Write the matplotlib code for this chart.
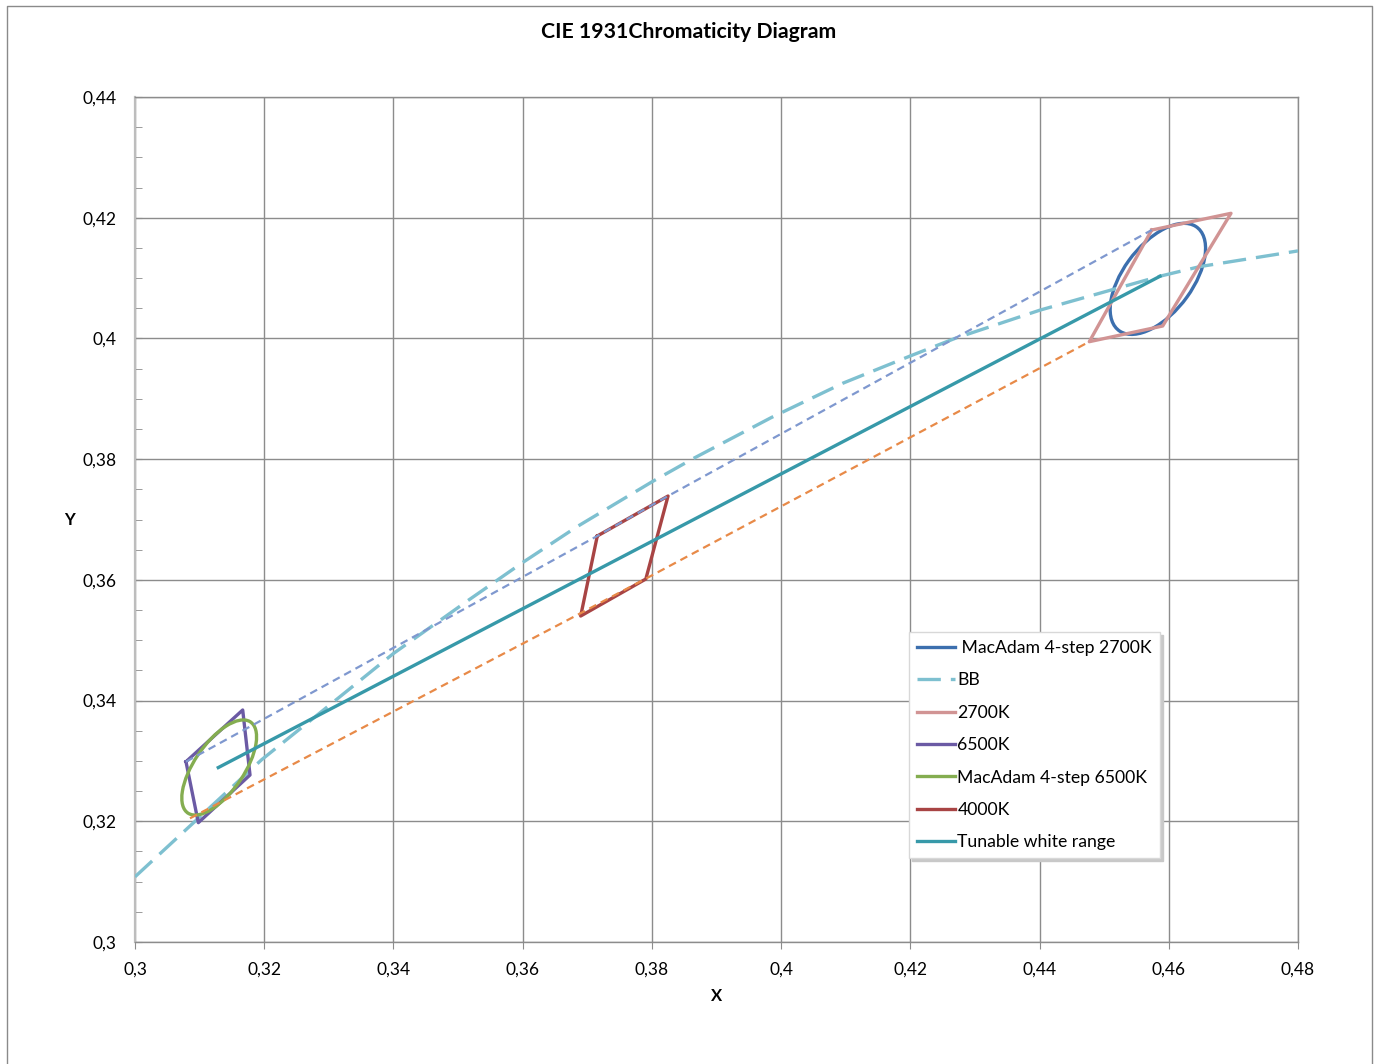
import matplotlib
matplotlib.use('Agg')
import matplotlib.pyplot as plt
from matplotlib.patches import Ellipse
from matplotlib.lines import Line2D
from matplotlib.ticker import MultipleLocator, FuncFormatter

plt.rcParams['font.family'] = ['Lato', 'DejaVu Sans']

# curva do corpo negro (BB)
bb_x = [0.3000, 0.3196, 0.3289, 0.3400, 0.3513, 0.3599, 0.3684, 0.3801, 0.3864,
        0.3985, 0.4096, 0.4200, 0.4269, 0.4401, 0.4586, 0.4648, 0.4800]
bb_y = [0.3108, 0.3302, 0.3382, 0.3478, 0.3564, 0.3628, 0.3688, 0.3763, 0.3801,
        0.3869, 0.3926, 0.3971, 0.4000, 0.4047, 0.4103, 0.4119, 0.4145]

# quadrilateros (fechados)
q2700_x = [0.45736, 0.46963, 0.45906, 0.44770, 0.45736]
q2700_y = [0.41796, 0.42073, 0.40206, 0.39946, 0.41796]
q6500_x = [0.30789, 0.31667, 0.31780, 0.30980, 0.30789]
q6500_y = [0.32987, 0.33844, 0.32767, 0.31977, 0.32987]
q4000_x = [0.37155, 0.38250, 0.37906, 0.36898, 0.37155]
q4000_y = [0.36727, 0.37389, 0.36014, 0.35401, 0.36727]

# faixa de branco ajustavel
tw_x = [0.31289, 0.45864]
tw_y = [0.32890, 0.41030]

# linhas pontilhadas (limites)
sup_x = [0.30789, 0.37155, 0.38250, 0.45736]
sup_y = [0.32987, 0.36727, 0.37389, 0.41796]
inf_x = [0.30851, 0.36898, 0.37906, 0.44770]
inf_y = [0.32049, 0.35448, 0.36020, 0.39946]

# elipses MacAdam 4-step: centro, semi-eixos, angulo
ell2700 = dict(cx=0.45831, cy=0.40987, a=0.01048, b=0.00542, ang=56.0)
ell6500 = dict(cx=0.31303, cy=0.32891, a=0.00897, b=0.00389, ang=58.0)

labels = [' MacAdam 4-step 2700K', 'BB', '2700K', '6500K',
          'MacAdam 4-step 6500K', '4000K', 'Tunable white range']

cores = {
    'mac2700': '#3c6fae',
    'bb': '#7ec0d0',
    '2700': '#d19494',
    '6500': '#6b5aa4',
    'mac6500': '#84ad50',
    '4000': '#a84444',
    'tw': '#3799a9',
    'sup': '#7f98cf',
    'inf': '#e88a48',
}

fig = plt.figure(figsize=(13.79, 10.64), dpi=100)
ax = fig.add_axes([135/1379, 1 - 942/1064, 1163/1379, 845/1064])

lw = 2.4
ax.add_patch(Ellipse((ell2700['cx'], ell2700['cy']), 2*ell2700['a'], 2*ell2700['b'],
                     angle=ell2700['ang'], fill=False, ec=cores['mac2700'], lw=lw, zorder=3))
ax.plot(bb_x, bb_y, color=cores['bb'], lw=lw, dashes=(7, 3), zorder=3)
ax.plot(q2700_x, q2700_y, color=cores['2700'], lw=lw, zorder=3)
ax.plot(q6500_x, q6500_y, color=cores['6500'], lw=lw, zorder=3)
ax.add_patch(Ellipse((ell6500['cx'], ell6500['cy']), 2*ell6500['a'], 2*ell6500['b'],
                     angle=ell6500['ang'], fill=False, ec=cores['mac6500'], lw=lw, zorder=3))
ax.plot(q4000_x, q4000_y, color=cores['4000'], lw=lw, zorder=3)
ax.plot(tw_x, tw_y, color=cores['tw'], lw=lw, zorder=3)
ax.plot(sup_x, sup_y, color=cores['sup'], lw=1.6, dashes=(3.5, 2.3), zorder=4)
ax.plot(inf_x, inf_y, color=cores['inf'], lw=1.6, dashes=(3.5, 2.3), zorder=4)

ax.set_xlim(0.30, 0.48)
ax.set_ylim(0.30, 0.44)

fmt = FuncFormatter(lambda v, _: ('%g' % round(v, 4)).replace('.', ','))
ax.xaxis.set_major_locator(MultipleLocator(0.02))
ax.yaxis.set_major_locator(MultipleLocator(0.02))
ax.yaxis.set_minor_locator(MultipleLocator(0.005))
ax.xaxis.set_major_formatter(fmt)
ax.yaxis.set_major_formatter(fmt)
ax.tick_params(axis='x', which='major', direction='out', length=5, color='#8c8c8c',
               labelsize=12.5, pad=9)
ax.tick_params(axis='y', which='both', direction='in', length=5, color='#8c8c8c',
               labelsize=12.5, pad=13)

ax.grid(True, which='major', color='#8c8c8c', lw=1.0)
ax.set_axisbelow(True)
for s in ['top', 'right', 'bottom']:
    ax.spines[s].set_color('#8c8c8c')
    ax.spines[s].set_linewidth(1.0)
ax.spines['left'].set_color('#bdbdbd')
ax.spines['left'].set_linewidth(1.6)

ax.set_xlabel('X', fontweight='bold', fontsize=12, ha='center', va='center')
ax.set_ylabel('Y', fontweight='bold', fontsize=12, rotation=0, ha='center', va='center')
ax.xaxis.set_label_coords(0.4996, -0.0639)
ax.yaxis.set_label_coords(-0.0559, 0.4994)

fig.text(689/1379, 1 - 32/1064, 'CIE 1931Chromaticity Diagram', fontsize=15.3,
         fontweight='bold', ha='center', va='center')

handles = [Line2D([], [], color=cores['mac2700'], lw=lw),
           Line2D([], [], color=cores['bb'], lw=lw, dashes=(7, 3)),
           Line2D([], [], color=cores['2700'], lw=lw),
           Line2D([], [], color=cores['6500'], lw=lw),
           Line2D([], [], color=cores['mac6500'], lw=lw),
           Line2D([], [], color=cores['4000'], lw=lw),
           Line2D([], [], color=cores['tw'], lw=lw)]
leg = ax.legend(handles, labels, loc='upper left', bbox_to_anchor=(0.6655, 0.3669),
                fontsize=12.7, frameon=True, fancybox=False, edgecolor='#d8d8d8',
                framealpha=1, shadow={'color': '#c8c8c8', 'alpha': 1, 'ox': 2, 'oy': -2},
                handlelength=2.15, handletextpad=0.15, labelspacing=0.93,
                borderpad=0.45, borderaxespad=0)
leg.set_zorder(10)

# moldura do grafico
fig.add_artist(Line2D([7/1379, 7/1379, 1372/1379, 1372/1379], [0, 1 - 6/1064, 1 - 6/1064, 0],
                      transform=fig.transFigure, color='#8a8a8a', lw=1))

fig.savefig('out.png', dpi=100)
